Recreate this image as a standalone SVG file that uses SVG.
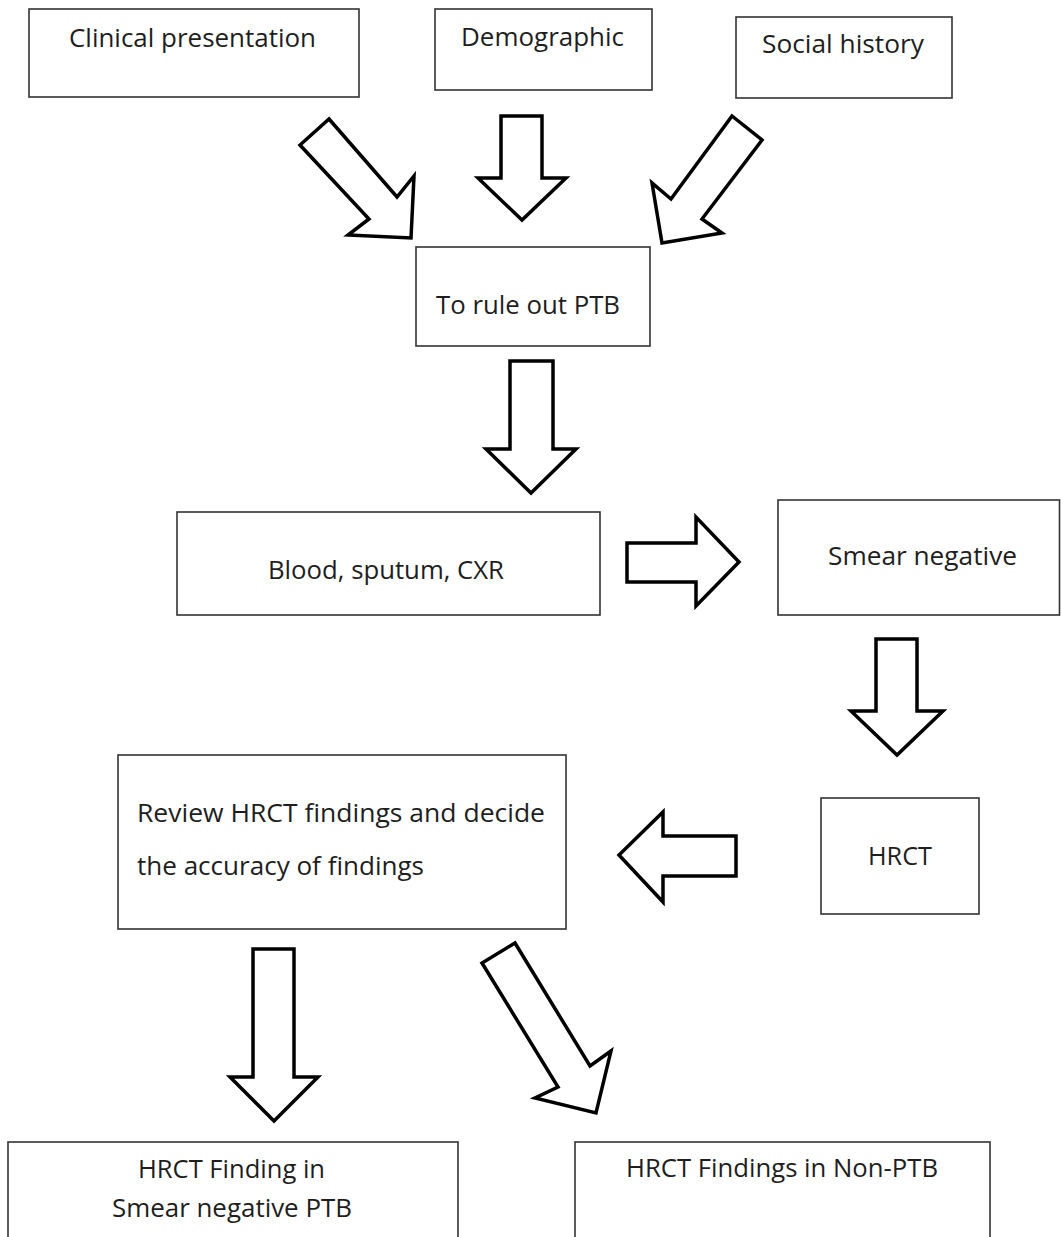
<svg xmlns="http://www.w3.org/2000/svg" width="1061" height="1237" viewBox="0 0 1061 1237">
<style>
.box{fill:#fff;stroke:#333;stroke-width:1.6}
.arr{fill:#fff;stroke:#000;stroke-width:3.5;stroke-linejoin:miter}
.t{font-family:"Open Sans","Lato","Liberation Sans",sans-serif;font-size:25px;fill:#1e1e1e}
.c{text-anchor:middle}
</style>
<rect width="1061" height="1237" fill="#fff"/>
<g id="connectors">
<polygon class="arr" points="329,119 397,197 414,176 411,238 348,235 369,219 300,145"/>
<polygon class="arr" points="501,116 542,116 542,178 566,178 522,220 478,178 501,178"/>
<polygon class="arr" points="732,116 762,140 702,219 722,233 662,243 652,183 671,199"/>
<polygon class="arr" points="510,361 553,361 553,449 576,449 531,493 486,449 510,449"/>
<polygon class="arr" points="627,543 696,543 696,517 739,562 696,606 696,582 627,582"/>
<polygon class="arr" points="876,639 917,639 917,711 943,711 897,755 851,711 876,711"/>
<polygon class="arr" points="736,836 663,836 663,812 619,855 663,902 663,876 736,876"/>
<polygon class="arr" points="253,949 294,949 294,1077 318,1077 274,1121 230,1077 253,1077"/>
<polygon class="arr" points="515,943 590,1066 611,1051 596,1113 535,1098 558,1087 482,963"/>
</g>
<g id="n-clinical"><rect class="box" x="29" y="9" width="330" height="88"/><text class="t c" x="192.5" y="47" textLength="247" lengthAdjust="spacingAndGlyphs">Clinical presentation</text></g>
<g id="n-demographic"><rect class="box" x="435" y="9" width="217" height="81"/><text class="t c" x="542.5" y="46" textLength="163" lengthAdjust="spacingAndGlyphs">Demographic</text></g>
<g id="n-social"><rect class="box" x="736" y="17" width="216" height="81"/><text class="t c" x="843" y="53" textLength="162" lengthAdjust="spacingAndGlyphs">Social history</text></g>
<g id="n-ruleout"><rect class="box" x="416" y="247" width="234" height="99"/><text class="t c" x="528" y="314" textLength="184" lengthAdjust="spacingAndGlyphs">To rule out PTB</text></g>
<g id="n-blood"><rect class="box" x="177" y="512" width="423" height="103"/><text class="t c" x="386" y="579" textLength="236" lengthAdjust="spacingAndGlyphs">Blood, sputum, CXR</text></g>
<g id="n-smear"><rect class="box" x="778" y="500" width="281.5" height="115"/><text class="t c" x="922.5" y="565" textLength="189" lengthAdjust="spacingAndGlyphs">Smear negative</text></g>
<g id="n-hrct"><rect class="box" x="821" y="798" width="158" height="116"/><text class="t c" x="900" y="865" textLength="64" lengthAdjust="spacingAndGlyphs">HRCT</text></g>
<g id="n-review"><rect class="box" x="118" y="755" width="448" height="174"/><text class="t" x="137" y="822" textLength="408" lengthAdjust="spacingAndGlyphs">Review HRCT findings and decide</text><text class="t" x="137" y="875" textLength="287" lengthAdjust="spacingAndGlyphs">the accuracy of findings</text></g>
<g id="n-ptb"><rect class="box" x="8" y="1142" width="450" height="110"/><text class="t c" x="231.5" y="1178" textLength="187" lengthAdjust="spacingAndGlyphs">HRCT Finding in</text><text class="t c" x="232" y="1217" textLength="240" lengthAdjust="spacingAndGlyphs">Smear negative PTB</text></g>
<g id="n-nonptb"><rect class="box" x="575" y="1142" width="415" height="110"/><text class="t c" x="782" y="1177" textLength="312" lengthAdjust="spacingAndGlyphs">HRCT Findings in Non-PTB</text></g>
</svg>
